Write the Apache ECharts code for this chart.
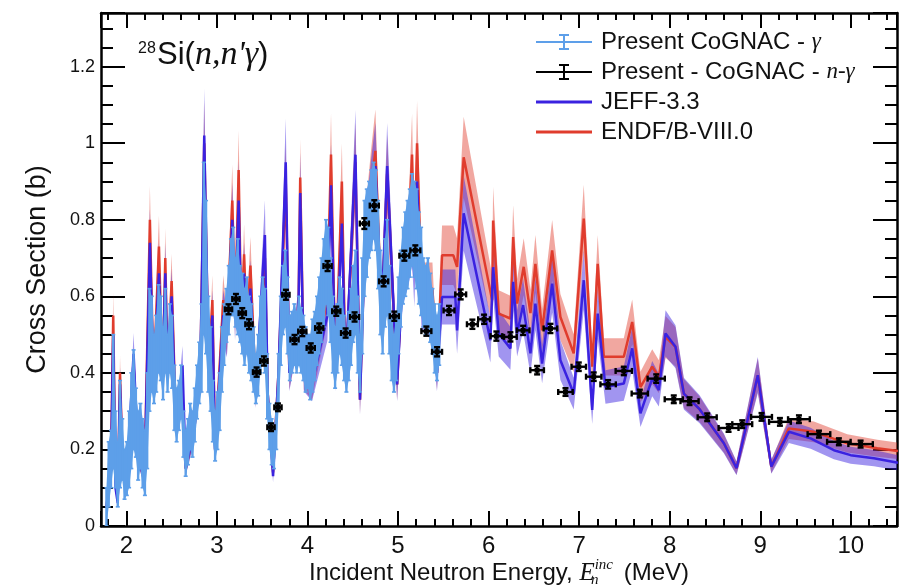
<!DOCTYPE html>
<html><head><meta charset="utf-8">
<script src="https://cdn.jsdelivr.net/npm/echarts@6/dist/echarts.min.js"></script>
<style>html,body{margin:0;padding:0;background:#fff}#c{width:910px;height:588px}</style>
</head><body><div id="c"></div>
<script>
// ---------- data ----------
// Present CoGNAC - gamma (energy MeV, cross section b, uncertainty b)
const cgE = [1.780,1.805,1.830,1.855,1.880,1.905,1.930,1.955,1.980,2.005,
2.030,2.055,2.080,2.105,2.130,2.155,2.180,2.205,2.230,2.255,
2.280,2.305,2.330,2.355,2.380,2.405,2.430,2.455,2.480,2.505,
2.530,2.555,2.580,2.605,2.630,2.655,2.680,2.705,2.730,2.755,
2.780,2.805,2.830,2.855,2.880,2.905,2.930,2.955,2.980,3.005,
3.030,3.055,3.080,3.105,3.130,3.155,3.180,3.205,3.230,3.255,
3.280,3.305,3.330,3.355,3.380,3.405,3.430,3.455,3.480,3.505,
3.530,3.555,3.580,3.605,3.630,3.655,3.680,3.705,3.730,3.755,
3.780,3.805,3.830,3.855,3.880,3.905,3.930,3.955,3.980,4.005,
4.030,4.055,4.080,4.105,4.130,4.155,4.180,4.205,4.230,4.255,
4.280,4.305,4.330,4.355,4.380,4.405,4.430,4.455,4.480,4.505,
4.530,4.555,4.580,4.605,4.630,4.655,4.680,4.705,4.730,4.755,
4.780,4.805,4.830,4.855,4.880,4.905,4.930,4.955,4.980,5.005,
5.030,5.055,5.080,5.105,5.130,5.155,5.180,5.205,5.230,5.255,
5.280,5.305,5.330,5.355,5.380,5.405,5.430,5.455];
const cgY = [0.05,0.135,0.175,0.325,0.20,0.135,0.24,0.20,0.135,0.15,
0.20,0.275,0.33,0.27,0.21,0.235,0.19,0.165,0.275,0.46,
0.475,0.41,0.45,0.515,0.49,0.425,0.51,0.425,0.49,0.455,
0.335,0.29,0.315,0.35,0.24,0.19,0.22,0.26,0.24,0.29,
0.35,0.40,0.465,0.725,0.65,0.475,0.41,0.30,0.235,0.275,
0.325,0.435,0.50,0.55,0.59,0.65,0.665,0.61,0.625,0.58,
0.555,0.52,0.55,0.50,0.48,0.435,0.385,0.42,0.50,0.55,
0.51,0.365,0.26,0.22,0.20,0.26,0.375,0.51,0.59,0.62,
0.55,0.465,0.48,0.50,0.48,0.51,0.485,0.465,0.435,0.43,
0.415,0.445,0.47,0.51,0.55,0.59,0.635,0.69,0.665,0.59,
0.50,0.44,0.49,0.55,0.52,0.465,0.425,0.47,0.52,0.58,
0.61,0.50,0.425,0.575,0.725,0.765,0.80,0.825,0.85,0.825,
0.735,0.61,0.55,0.635,0.675,0.565,0.465,0.425,0.465,0.55,
0.62,0.68,0.71,0.735,0.765,0.80,0.775,0.75,0.70,0.665,
0.61,0.59,0.61,0.57,0.535,0.49,0.465,0.50];
const cgErr = [0.05,0.085,0.075,0.175,0.10,0.085,0.14,0.08,0.065,0.07,
0.10,0.125,0.13,0.09,0.09,0.085,0.09,0.085,0.125,0.16,
0.125,0.09,0.10,0.115,0.11,0.095,0.11,0.075,0.09,0.095,
0.085,0.07,0.065,0.07,0.06,0.06,0.06,0.06,0.06,0.07,
0.07,0.08,0.115,0.225,0.20,0.125,0.11,0.08,0.065,0.075,
0.075,0.085,0.08,0.07,0.09,0.10,0.115,0.09,0.125,0.10,
0.105,0.10,0.10,0.10,0.10,0.085,0.065,0.08,0.10,0.10,
0.11,0.085,0.06,0.06,0.05,0.06,0.075,0.09,0.09,0.10,
0.10,0.085,0.08,0.08,0.08,0.09,0.085,0.085,0.085,0.07,
0.085,0.095,0.09,0.09,0.10,0.11,0.115,0.11,0.115,0.11,
0.10,0.08,0.09,0.10,0.10,0.085,0.075,0.09,0.10,0.10,
0.11,0.10,0.075,0.125,0.125,0.115,0.10,0.105,0.10,0.105,
0.115,0.11,0.10,0.115,0.125,0.115,0.085,0.075,0.085,0.10,
0.10,0.10,0.11,0.115,0.115,0.12,0.125,0.13,0.12,0.115,
0.09,0.09,0.09,0.09,0.085,0.09,0.085,0.08];

// Present - CoGNAC - n-gamma : [energy, cross section, energy half-width, uncertainty]
const ngPoints = [
[3.128,0.566,0.04,0.013],[3.210,0.593,0.04,0.013],[3.280,0.556,0.04,0.013],[3.354,0.527,0.04,0.013],
[3.438,0.402,0.04,0.012],[3.519,0.431,0.04,0.012],[3.597,0.258,0.04,0.010],[3.674,0.310,0.04,0.010],
[3.762,0.604,0.04,0.013],[3.857,0.487,0.045,0.012],[3.943,0.508,0.045,0.012],[4.036,0.465,0.045,0.012],
[4.130,0.517,0.045,0.012],[4.222,0.679,0.045,0.013],[4.318,0.561,0.045,0.012],[4.421,0.504,0.05,0.012],
[4.520,0.546,0.05,0.012],[4.628,0.790,0.05,0.014],[4.738,0.837,0.05,0.014],[4.841,0.639,0.05,0.013],
[4.959,0.548,0.05,0.012],[5.070,0.706,0.055,0.013],[5.191,0.720,0.055,0.013],[5.313,0.509,0.055,0.012],
[5.431,0.455,0.055,0.012],[5.563,0.563,0.06,0.012],[5.692,0.605,0.06,0.013],[5.821,0.527,0.06,0.012],
[5.950,0.540,0.065,0.012],[6.086,0.496,0.065,0.012],[6.241,0.494,0.07,0.012],[6.381,0.511,0.07,0.012],
[6.536,0.407,0.075,0.011],[6.683,0.516,0.075,0.012],[6.849,0.350,0.08,0.010],[6.996,0.416,0.08,0.011],
[7.161,0.390,0.085,0.011],[7.320,0.370,0.085,0.011],[7.493,0.405,0.09,0.011],[7.670,0.346,0.09,0.010],
[7.851,0.385,0.095,0.011],[8.045,0.331,0.10,0.010],[8.219,0.326,0.10,0.010],[8.414,0.284,0.105,0.010],
[8.650,0.256,0.11,0.010],[8.801,0.266,0.11,0.010],[9.014,0.285,0.115,0.010],[9.217,0.272,0.12,0.010],
[9.427,0.279,0.12,0.010],[9.648,0.240,0.125,0.009],[9.868,0.220,0.13,0.009],[10.108,0.214,0.135,0.009]];

// JEFF-3.3 evaluation [energy, cross section]
const jeffCurve = [[1.78,0.05],[1.83,0.15],[1.855,0.50],[1.88,0.10],[1.905,0.06],[1.93,0.37],[1.96,0.15],[2.00,0.10],[2.08,0.45],[2.13,0.18],
[2.20,0.12],[2.26,0.74],[2.30,0.38],[2.36,0.66],[2.40,0.38],[2.43,0.66],[2.455,0.40],[2.50,0.60],[2.55,0.25],[2.62,0.42],
[2.655,0.15],[2.75,0.25],[2.82,0.45],[2.86,1.02],[2.91,0.40],[2.95,0.55],[2.98,0.20],[3.07,0.55],[3.11,0.50],[3.17,0.80],
[3.20,0.55],[3.24,0.85],[3.27,0.52],[3.30,0.66],[3.33,0.50],[3.37,0.62],[3.43,0.35],[3.53,0.76],[3.56,0.35],[3.62,0.13],
[3.68,0.40],[3.76,0.95],[3.80,0.40],[3.90,0.55],[3.92,0.87],[3.96,0.40],[4.05,0.37],[4.22,0.55],[4.26,0.89],[4.31,0.40],
[4.38,0.79],[4.42,0.40],[4.53,0.97],[4.58,0.33],[4.63,0.70],[4.70,0.85],[4.75,0.94],[4.82,0.55],[4.88,0.94],[4.99,0.37],
[5.05,0.65],[5.12,0.72],[5.155,0.78],[5.18,0.65],[5.21,0.90],[5.26,0.58],[5.38,0.55],[5.43,0.40],
[5.486,0.598],[5.633,0.598],[5.652,0.511],[5.725,0.817],[6.020,0.485],[6.050,0.676],[6.112,0.503],[6.241,0.464],[6.271,0.638],[6.315,0.503],
[6.381,0.577],[6.462,0.451],[6.517,0.581],[6.591,0.424],[6.702,0.633],[6.793,0.433],[6.940,0.346],[7.051,0.642],[7.144,0.303],[7.205,0.555],
[7.291,0.363],[7.493,0.372],[7.586,0.464],[7.677,0.294],[7.807,0.385],[7.880,0.355],[7.954,0.503],[8.064,0.468],[8.156,0.346],[8.33,0.305],
[8.598,0.216],[8.738,0.151],[8.973,0.394],[9.122,0.155],[9.316,0.246],[9.556,0.229],[9.813,0.198],[9.998,0.185],[10.255,0.177],[10.52,0.165]];

// ENDF/B-VIII.0 evaluation [energy, cross section]
const endfCurve = [[1.78,0.05],[1.83,0.15],[1.855,0.55],[1.88,0.12],[1.905,0.08],[1.93,0.40],[1.96,0.15],[2.00,0.10],[2.08,0.42],[2.13,0.18],
[2.20,0.12],[2.26,0.80],[2.30,0.38],[2.36,0.73],[2.40,0.38],[2.43,0.70],[2.455,0.40],[2.50,0.64],[2.55,0.25],[2.61,0.36],
[2.655,0.15],[2.75,0.25],[2.82,0.45],[2.86,1.00],[2.91,0.40],[2.95,0.59],[2.98,0.20],[3.07,0.59],[3.11,0.50],[3.17,0.85],
[3.20,0.55],[3.24,0.93],[3.27,0.52],[3.30,0.71],[3.33,0.50],[3.37,0.68],[3.43,0.35],[3.53,0.70],[3.56,0.35],[3.62,0.14],
[3.68,0.40],[3.76,0.90],[3.80,0.40],[3.90,0.55],[3.92,0.91],[3.96,0.40],[4.05,0.37],[4.22,0.60],[4.26,0.97],[4.31,0.40],
[4.38,0.90],[4.42,0.40],[4.53,0.95],[4.58,0.33],[4.63,0.72],[4.70,0.88],[4.75,0.98],[4.82,0.55],[4.88,0.92],[4.99,0.37],
[5.05,0.68],[5.12,0.78],[5.155,0.97],[5.18,0.70],[5.21,1.00],[5.26,0.62],[5.38,0.62],[5.43,0.40],
[5.486,0.707],[5.611,0.707],[5.652,0.677],[5.725,0.963],[6.039,0.590],[6.050,0.798],[6.112,0.555],[6.241,0.542],[6.271,0.755],[6.315,0.581],
[6.388,0.677],[6.462,0.556],[6.517,0.685],[6.591,0.511],[6.702,0.720],[6.793,0.546],[6.940,0.451],[7.051,0.803],[7.144,0.416],[7.205,0.685],
[7.272,0.442],[7.493,0.442],[7.586,0.533],[7.677,0.363],[7.807,0.416],[7.880,0.390],[7.954,0.494],[8.064,0.468],[8.156,0.346],[8.33,0.305],
[8.598,0.216],[8.738,0.151],[8.973,0.394],[9.122,0.155],[9.316,0.255],[9.592,0.246],[9.961,0.216],[10.293,0.203],[10.52,0.196]];

// relative uncertainty of the evaluations (shaded bands)
const jeffRelUnc = 0.12;
const endfRelUnc = 0.11;

// axis ranges
const xRange = [1.72, 10.51];
const yRange = [0, 1.34];

// ---------- styles ----------
const FONT = "'Liberation Sans', Arial, Helvetica, sans-serif";
const SERIF = "'Liberation Serif', 'Times New Roman', serif";
const C_CG = '#5d9fe9', C_NG = '#000000', C_JEFF = '#3a22e0', C_ENDF = '#e03c2d';
const B_JEFF = 'rgba(58,34,224,0.48)', B_ENDF = 'rgba(224,60,45,0.45)';
const errIcon = 'path://M0,9L56,9L56,11L0,11Z M27,2L29,2L29,18L27,18Z M23,2L33,2L33,4L23,4Z M23,16L33,16L33,18L23,18Z';
const lineIcon = 'path://M0,0L56,0L56,3L0,3Z';

function bandSeries(name, pts, rel, color) {
  return {
    type: 'custom', name: name, silent: true, clip: true, z: 1,
    data: [[pts[0][0], pts[0][1]]],
    renderItem: function (params, api) {
      const up = [], lo = [];
      for (const p of pts) {
        up.push(api.coord([p[0], p[1] * (1 + rel)]));
        lo.push(api.coord([p[0], p[1] * (1 - rel)]));
      }
      return { type: 'polygon', shape: { points: up.concat(lo.reverse()) }, style: { fill: color } };
    }
  };
}

const axisCommonX = {
  type: 'value', min: xRange[0], max: xRange[1], splitNumber: 9, minInterval: 1, maxInterval: 1,
  axisLine: { show: true, onZero: false, lineStyle: { color: '#000', width: 2.5 } },
  axisTick: { show: true, inside: true, length: 15, lineStyle: { color: '#000', width: 2 } },
  minorTick: { show: true, splitNumber: 5, length: 7, lineStyle: { color: '#000', width: 2 } },
  splitLine: { show: false }
};
const axisCommonY = {
  type: 'value', min: yRange[0], max: yRange[1], interval: 0.2,
  axisLine: { show: true, onZero: false, lineStyle: { color: '#000', width: 2.5 } },
  axisTick: { show: true, inside: true, length: 24, lineStyle: { color: '#000', width: 2 } },
  minorTick: { show: true, splitNumber: 4, length: 12, lineStyle: { color: '#000', width: 2 } },
  splitLine: { show: false }
};

const chart = echarts.init(document.getElementById('c'), null, { renderer: 'canvas' });
chart.setOption({
  animation: false,
  backgroundColor: '#fff',
  grid: { left: 101, right: 13, top: 13, bottom: 62, containLabel: false, outerBoundsMode: 'none' },
  xAxis: [
    Object.assign({}, axisCommonX, {
      position: 'bottom',
      axisLabel: { fontSize: 24, color: '#111', fontFamily: FONT, margin: 8,
        formatter: function (v) { return Math.abs(v - Math.round(v)) < 1e-6 ? String(Math.round(v)) : ''; } },
      name: 'Incident Neutron Energy, {e|E}{sb|n}{sp|inc} (MeV)',
      nameLocation: 'middle', nameGap: 32, nameMoveOverlap: false,
      nameTextStyle: { fontSize: 24, color: '#111', fontFamily: FONT, verticalAlign: 'top',
        rich: {
          e: { fontSize: 25, fontFamily: SERIF, fontStyle: 'italic', color: '#111', lineHeight: 30 },
          sb: { fontSize: 15, fontFamily: SERIF, fontStyle: 'italic', color: '#111', width: 0, verticalAlign: 'bottom', lineHeight: 14 },
          sp: { fontSize: 15, fontFamily: SERIF, fontStyle: 'italic', color: '#111', verticalAlign: 'top', lineHeight: 14, padding: [0, 4, 0, 0] }
        } }
    }),
    Object.assign({}, axisCommonX, { position: 'top', axisLabel: { show: false } })
  ],
  yAxis: [
    Object.assign({}, axisCommonY, {
      position: 'left',
      axisLabel: { fontSize: 18, color: '#111', fontFamily: FONT, margin: 6,
        formatter: function (v) { const r = Math.round(v * 10) / 10; return Math.abs(v - r) < 1e-6 ? String(r) : ''; } },
      name: 'Cross Section (b)', nameLocation: 'middle', nameGap: 50, nameMoveOverlap: false,
      nameTextStyle: { fontSize: 27, color: '#111', fontFamily: FONT }
    }),
    Object.assign({}, axisCommonY, { position: 'right', axisLabel: { show: false } })
  ],
  legend: {
    orient: 'vertical', left: 531, top: 25, itemWidth: 56, itemHeight: 20, itemGap: 6,
    selectedMode: false,
    data: [{ name: 'cg', icon: errIcon }, { name: 'ng', icon: errIcon }, { name: 'jeff', icon: lineIcon }, { name: 'endf', icon: lineIcon }],
    formatter: function (n) {
      return { cg: 'Present CoGNAC - {g|γ}', ng: 'Present - CoGNAC - {g|n-γ}', jeff: 'JEFF-3.3', endf: 'ENDF/B-VIII.0' }[n];
    },
    textStyle: { fontSize: 24, color: '#111', fontFamily: FONT, padding: [0, 0, 0, 4],
      rich: { g: { fontSize: 23, fontFamily: SERIF, fontStyle: 'italic', color: '#111' } } }
  },
  graphic: [
    { type: 'text', left: 138, top: 41, z: 100, style: { text: '28', font: '16px ' + FONT, fill: '#111' } },
    { type: 'text', left: 157, top: 38, z: 100, style: {
        text: '{s|Si(}{i|n,n\'γ}{s|)}',
        rich: { s: { fontSize: 31, fontFamily: FONT, fill: '#111' }, i: { fontSize: 34, fontFamily: SERIF, fontStyle: 'italic', fill: '#111' } } } }
  ],
  series: [
    bandSeries('endfBand', endfCurve, endfRelUnc, B_ENDF),
    bandSeries('jeffBand', jeffCurve, jeffRelUnc, B_JEFF),
    { type: 'line', name: 'endf', data: endfCurve, showSymbol: false, z: 3, color: C_ENDF,
      lineStyle: { color: C_ENDF, width: 2.5 }, itemStyle: { color: C_ENDF } },
    { type: 'line', name: 'jeff', data: jeffCurve, showSymbol: false, z: 4, color: C_JEFF,
      lineStyle: { color: C_JEFF, width: 2.5 }, itemStyle: { color: C_JEFF } },
    // envelope of the CoGNAC error bars (fills the space between adjacent bars)
    { type: 'custom', name: 'cgEnvelope', z: 5, clip: true, silent: true,
      data: [[cgE[0], cgY[0]]],
      renderItem: function (params, api) {
        const up = [], lo = [];
        for (let i = 0; i < cgE.length; i++) {
          up.push(api.coord([cgE[i], cgY[i] + cgErr[i]]));
          lo.push(api.coord([cgE[i], cgY[i] - cgErr[i]]));
        }
        return { type: 'polygon', shape: { points: up.concat(lo.reverse()) }, style: { fill: C_CG } };
      } },
    { type: 'custom', name: 'cg', z: 6, clip: true, itemStyle: { color: C_CG },
      data: cgE.map(function (e, i) { return [e, cgY[i], cgErr[i]]; }),
      encode: { x: 0, y: 1 },
      renderItem: function (params, api) {
        const e = api.value(0), v = api.value(1), d = api.value(2);
        const a = api.coord([e, v - d]), b = api.coord([e, v + d]);
        return { type: 'group', children: [
          { type: 'line', shape: { x1: a[0], y1: a[1], x2: b[0], y2: b[1] }, style: { stroke: C_CG, lineWidth: 2.4 } },
          { type: 'line', shape: { x1: a[0] - 2, y1: a[1], x2: a[0] + 2, y2: a[1] }, style: { stroke: C_CG, lineWidth: 1.6 } },
          { type: 'line', shape: { x1: b[0] - 2, y1: b[1], x2: b[0] + 2, y2: b[1] }, style: { stroke: C_CG, lineWidth: 1.6 } }
        ] };
      } },
    { type: 'custom', name: 'ng', z: 7, clip: true, itemStyle: { color: C_NG },
      data: ngPoints, encode: { x: 0, y: 1 },
      renderItem: function (params, api) {
        const e = api.value(0), v = api.value(1), dx = api.value(2), dy = api.value(3);
        const c = api.coord([e, v]);
        const l = api.coord([e - dx, v])[0], r = api.coord([e + dx, v])[0];
        const t = api.coord([e, v + dy])[1], b = api.coord([e, v - dy])[1];
        const st = { stroke: '#000', lineWidth: 2.4 };
        return { type: 'group', children: [
          { type: 'line', shape: { x1: l, y1: c[1], x2: r, y2: c[1] }, style: st },
          { type: 'line', shape: { x1: c[0], y1: t, x2: c[0], y2: b }, style: st },
          { type: 'line', shape: { x1: l, y1: c[1] - 3, x2: l, y2: c[1] + 3 }, style: st },
          { type: 'line', shape: { x1: r, y1: c[1] - 3, x2: r, y2: c[1] + 3 }, style: st },
          { type: 'line', shape: { x1: c[0] - 3, y1: t, x2: c[0] + 3, y2: t }, style: st },
          { type: 'line', shape: { x1: c[0] - 3, y1: b, x2: c[0] + 3, y2: b }, style: st },
          { type: 'rect', shape: { x: c[0] - 2.5, y: c[1] - 2.5, width: 5, height: 5 }, style: { fill: '#000' } }
        ] };
      } }
  ]
});
</script></body></html>
